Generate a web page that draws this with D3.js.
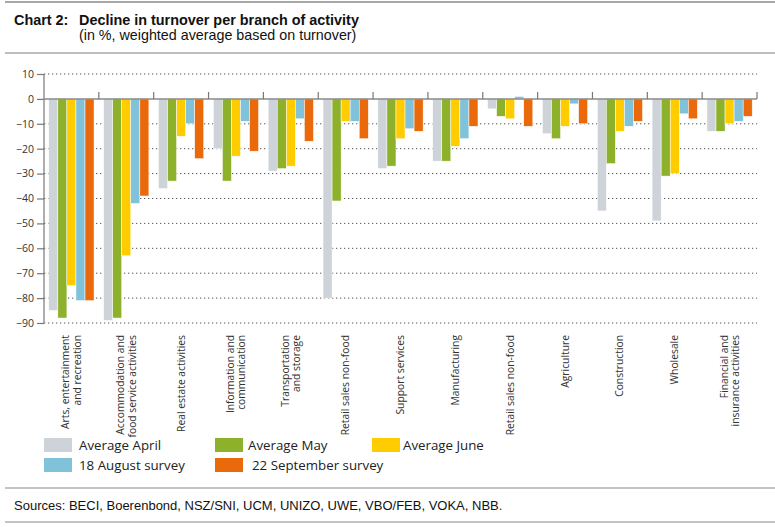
<!DOCTYPE html>
<html><head><meta charset="utf-8">
<script src="https://cdn.jsdelivr.net/npm/d3@7"></script>
<style>body{margin:0;background:#fff}svg{display:block}</style>
</head><body>
<svg id="c" width="775" height="527"></svg>
<script>
const categories = [
  "Arts, entertainment\nand recreation",
  "Accommodation and\nfood service activities",
  "Real estate activities",
  "Information and\ncommunication",
  "Transportation\nand storage",
  "Retail sales non-food",
  "Support services",
  "Manufacturing",
  "Retail sales non-food",
  "Agriculture",
  "Construction",
  "Wholesale",
  "Financial and\ninsurance activities"
];
const seriesNames = ["Average April","Average May","Average June","18 August survey","22 September survey"];
const avgApril = [-85,-89,-36,-20,-29,-80,-28,-25,-4,-14,-45,-49,-13];
const avgMay   = [-88,-88,-33,-33,-28,-41,-27,-25,-7,-16,-26,-31,-13];
const avgJune  = [-75,-63,-15,-23,-27,-9,-16,-19,-8,-11,-13,-30,-10];
const aug18    = [-81,-42,-10,-9,-8,-9,-12,-16,1,-2,-11,-6,-9];
const sep22    = [-81,-39,-24,-21,-17,-16,-13,-11,-11,-10,-9,-8,-7];
const yTicks = [10,0,-10,-20,-30,-40,-50,-60,-70,-80,-90];
const colors = ["#cdd3d9","#8db12b","#ffcc00","#80c2da","#ea6a0b"];
const series = [avgApril, avgMay, avgJune, aug18, sep22];

const svg = d3.select("#c");
const L = 44, R = 757, T = 74, B = 323;

// header rules
svg.append("line").attr("x1",5).attr("x2",775).attr("y1",2).attr("y2",2).attr("stroke","#a8a8a8").attr("stroke-width",2);
svg.append("line").attr("x1",5).attr("x2",775).attr("y1",53).attr("y2",53).attr("stroke","#a8a8a8").attr("stroke-width",1.5);
svg.append("text").attr("x",14).attr("y",25).attr("font-family","Liberation Sans, Arial").attr("font-size",14.4).attr("font-weight","bold").attr("fill","#111").text("Chart 2:");
svg.append("text").attr("x",79).attr("y",25).attr("font-family","Liberation Sans, Arial").attr("font-size",14.4).attr("font-weight","bold").attr("fill","#111").text("Decline in turnover per branch of activity");
svg.append("text").attr("x",79).attr("y",40).attr("font-family","Liberation Sans, Arial").attr("font-size",14.3).attr("fill","#111").text("(in %, weighted average based on turnover)");

const y = d3.scaleLinear().domain([10,-90]).range([T,B]);
const x0 = d3.scaleBand().domain(d3.range(categories.length)).range([L,R]).paddingInner(0).paddingOuter(0);
const bw = x0.bandwidth();
const x1 = d3.scaleBand().domain(d3.range(series.length)).range([4.8, bw-4.8]).padding(0);

// grid
svg.append("g").selectAll("line").data(yTicks.filter(d=>d!==0)).join("line")
  .attr("x1",L).attr("x2",R).attr("y1",d=>y(d)).attr("y2",d=>y(d))
  .attr("stroke","#555").attr("stroke-width",1).attr("stroke-dasharray","1.3,2.7");

// bars
const g = svg.append("g");
categories.forEach((c,i)=>{
  series.forEach((s,j)=>{
    const v = s[i];
    g.append("rect")
      .attr("x", x0(i)+x1(j))
      .attr("width", x1.bandwidth())
      .attr("y", y(Math.max(0,v)))
      .attr("height", Math.abs(y(v)-y(0)))
      .attr("fill", colors[j])
      .attr("stroke","#fff").attr("stroke-width",0.5);
  });
});

// y axis
const yAxis = d3.axisLeft(y).tickValues(yTicks).tickSize(7).tickPadding(3)
  .tickFormat(d=>d<0?"\u2212"+Math.abs(d):d);
const ya = svg.append("g").attr("transform",`translate(${L},0)`).call(yAxis);
ya.select(".domain").attr("stroke","#777").attr("stroke-width",1.2).attr("d",`M0,${T}V${B}`);
ya.selectAll(".tick line").attr("stroke","#777").attr("stroke-width",1.2);
ya.selectAll("text").attr("font-family","Open Sans, Noto Sans, sans-serif").attr("font-size",10.5).attr("fill","#333");

// zero line + category ticks
svg.append("line").attr("x1",L).attr("x2",R).attr("y1",y(0)).attr("y2",y(0)).attr("stroke","#8a8a8a").attr("stroke-width",1.5);
svg.append("g").selectAll("line").data(d3.range(1,categories.length+1)).join("line")
  .attr("x1",i=>x0(i-1)+bw).attr("x2",i=>x0(i-1)+bw)
  .attr("y1",y(0)).attr("y2",y(0)-7).attr("stroke","#777").attr("stroke-width",1.2);

// category labels
const lh = 11.3;
categories.forEach((c,i)=>{
  const lines = c.split("\n");
  const cx = x0(i)+bw/2;
  const t = svg.append("text")
    .attr("transform",`translate(${cx},335) rotate(-90)`)
    .attr("text-anchor","end")
    .attr("font-family","Open Sans, Noto Sans, sans-serif").attr("font-size",10.3).attr("fill","#333");
  lines.forEach((ln,k)=>{
    const off = (k-(lines.length-1)/2)*lh;
    t.append("tspan").attr("x",0).attr("y",off).attr("dy","0.35em").text(ln);
  });
});

// legend
const legPos = [[44,445],[215,445],[372,445],[44,465],[215,465]];
const legTextX = [79,248,403,79,252];
seriesNames.forEach((n,j)=>{
  const [lx,ly] = legPos[j];
  svg.append("rect").attr("x",lx).attr("y",ly-7).attr("width",28).attr("height",14).attr("fill",colors[j]);
  svg.append("text").attr("x",legTextX[j]).attr("y",ly).attr("dy","0.35em")
    .attr("font-family","Open Sans, Noto Sans, sans-serif").attr("font-size",13.3).attr("fill","#222").text(n);
});

// footer
svg.append("line").attr("x1",5).attr("x2",775).attr("y1",488).attr("y2",488).attr("stroke","#888").attr("stroke-width",1.2);
svg.append("text").attr("x",14).attr("y",510).attr("font-family","Liberation Sans, Arial").attr("font-size",13).attr("fill","#111")
  .text("Sources: BECI, Boerenbond, NSZ/SNI, UCM, UNIZO, UWE, VBO/FEB, VOKA, NBB.");
svg.append("line").attr("x1",5).attr("x2",775).attr("y1",522).attr("y2",522).attr("stroke","#888").attr("stroke-width",1.2);
</script>
</body></html>
